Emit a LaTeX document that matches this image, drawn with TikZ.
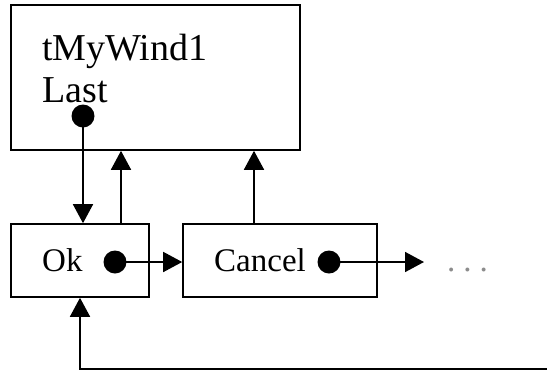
\documentclass[tikz,border=0pt]{standalone}
\usepackage{fontspec}
\setmainfont{Liberation Serif}
\usetikzlibrary{arrows.meta}
\definecolor{lnblack}{HTML}{000000}
\definecolor{dotgray}{HTML}{8C8C8C}
\tikzset{
  winbox/.style={rectangle, draw=lnblack, line width=1.6pt, inner sep=0pt},
  lbl/.style={inner sep=0pt, font=\fontsize{33}{42}\selectfont},
  biglbl/.style={inner sep=0pt, font=\fontsize{38}{42}\selectfont},
  knob/.style={circle, fill=lnblack, inner sep=0pt, minimum size=23pt},
  link/.style={-{Triangle[length=19pt, width=20pt]}, line width=1.6pt, draw=lnblack},
}

\begin{document}
\begin{tikzpicture}[x=1pt, y=-1pt]
  \useasboundingbox (0,0) rectangle (547,376);

  % --- finestra
  \node[winbox, minimum width=289pt, minimum height=145pt] (win) at (155.5,77.5) {};
  \node[biglbl, anchor=base west] (winname) at (42,60) {tMyWind1};
  \node[biglbl, anchor=base west] (winlast) at (42,102) {Last};
  \node[knob] (last) at (83,116) {};

  % --- bottoni
  \node[winbox, minimum width=138pt, minimum height=73pt] (ok) at (80,260.5) {};
  \node[winbox, minimum width=194pt, minimum height=73pt] (cancel) at (280,260.5) {};
  \node[lbl, anchor=base west] (oklbl) at (42,271) {Ok};
  \node[lbl, anchor=base west] (cancellbl) at (214,271) {Cancel};
  \node[knob] (okknob) at (115,262) {};
  \node[knob] (cancelknob) at (329,262) {};
  \node[lbl, text=dotgray, anchor=base west] (more) at (447,271) {.\hspace{8pt}.\hspace{8pt}.};
  \coordinate (tail) at (547,369);

  % --- collegamenti
  \draw[link] (last.center) -- (last.center |- ok.north);
  \draw[link] ([xshift=41pt]ok.north) -- ([xshift=41pt]ok.north |- win.south);
  \draw[link] ([xshift=-26pt]cancel.north) -- ([xshift=-26pt]cancel.north |- win.south);
  \draw[link] (okknob.center) -- (okknob.center -| cancel.west);
  \draw[link] (cancelknob.center) -- ++(95,0);
  \draw[link] (tail) -| (ok.south);
\end{tikzpicture}
\end{document}
